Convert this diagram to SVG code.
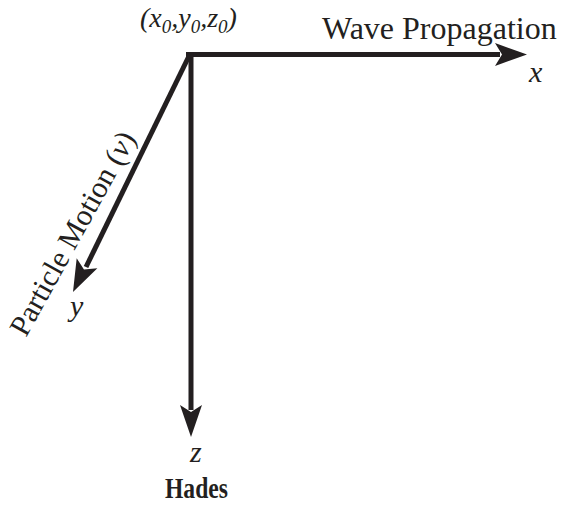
<svg xmlns="http://www.w3.org/2000/svg" width="563" height="505" viewBox="0 0 563 505">
<style>
.t{font-family:"Liberation Serif","Times New Roman",serif;fill:#231f20}
.i{font-style:italic}
.ax{stroke:#231f20;stroke-width:5;fill:none}
</style>
<rect width="563" height="505" fill="#fff"/>
<g id="connectors">
<path class="ax" d="M186,54.5 L500,54.5" />
<path d="M495,43 L527,54.5 L495,66 L502,54.5 Z" fill="#231f20"/>
<path class="ax" d="M191,52 L191,410" />
<path d="M180,405 L191,437 L202,405 L191,412 Z" fill="#231f20"/>
<path class="ax" d="M190,54 L86,267" />
<g transform="translate(73,292) rotate(-64)"><path d="M0,0 L32,-11.5 L25,0 L32,11.5 Z" fill="#231f20"/></g>
</g>
<g id="origin"><text class="t i" x="140" y="27" font-size="28">(x<tspan font-size="19" dy="6">0</tspan><tspan dy="-6">,y</tspan><tspan font-size="19" dy="6">0</tspan><tspan dy="-6">,z</tspan><tspan font-size="19" dy="6">0</tspan><tspan dy="-6">)</tspan></text></g>
<g id="wave"><text class="t" x="322" y="39" font-size="32">Wave Propagation</text></g>
<g id="xlabel"><text class="t i" x="529" y="82" font-size="30">x</text></g>
<g id="particle"><text class="t" font-size="30" transform="translate(26,338) rotate(-61)">Particle Motion (<tspan class="i">v</tspan>)</text></g>
<g id="ylabel"><text class="t i" x="70" y="316" font-size="30">y</text></g>
<g id="zlabel"><text class="t i" x="190" y="462" font-size="30">z</text></g>
<g id="hades"><text class="t" x="165" y="498" font-size="30" font-weight="bold" textLength="63" lengthAdjust="spacingAndGlyphs">Hades</text></g>
</svg>
